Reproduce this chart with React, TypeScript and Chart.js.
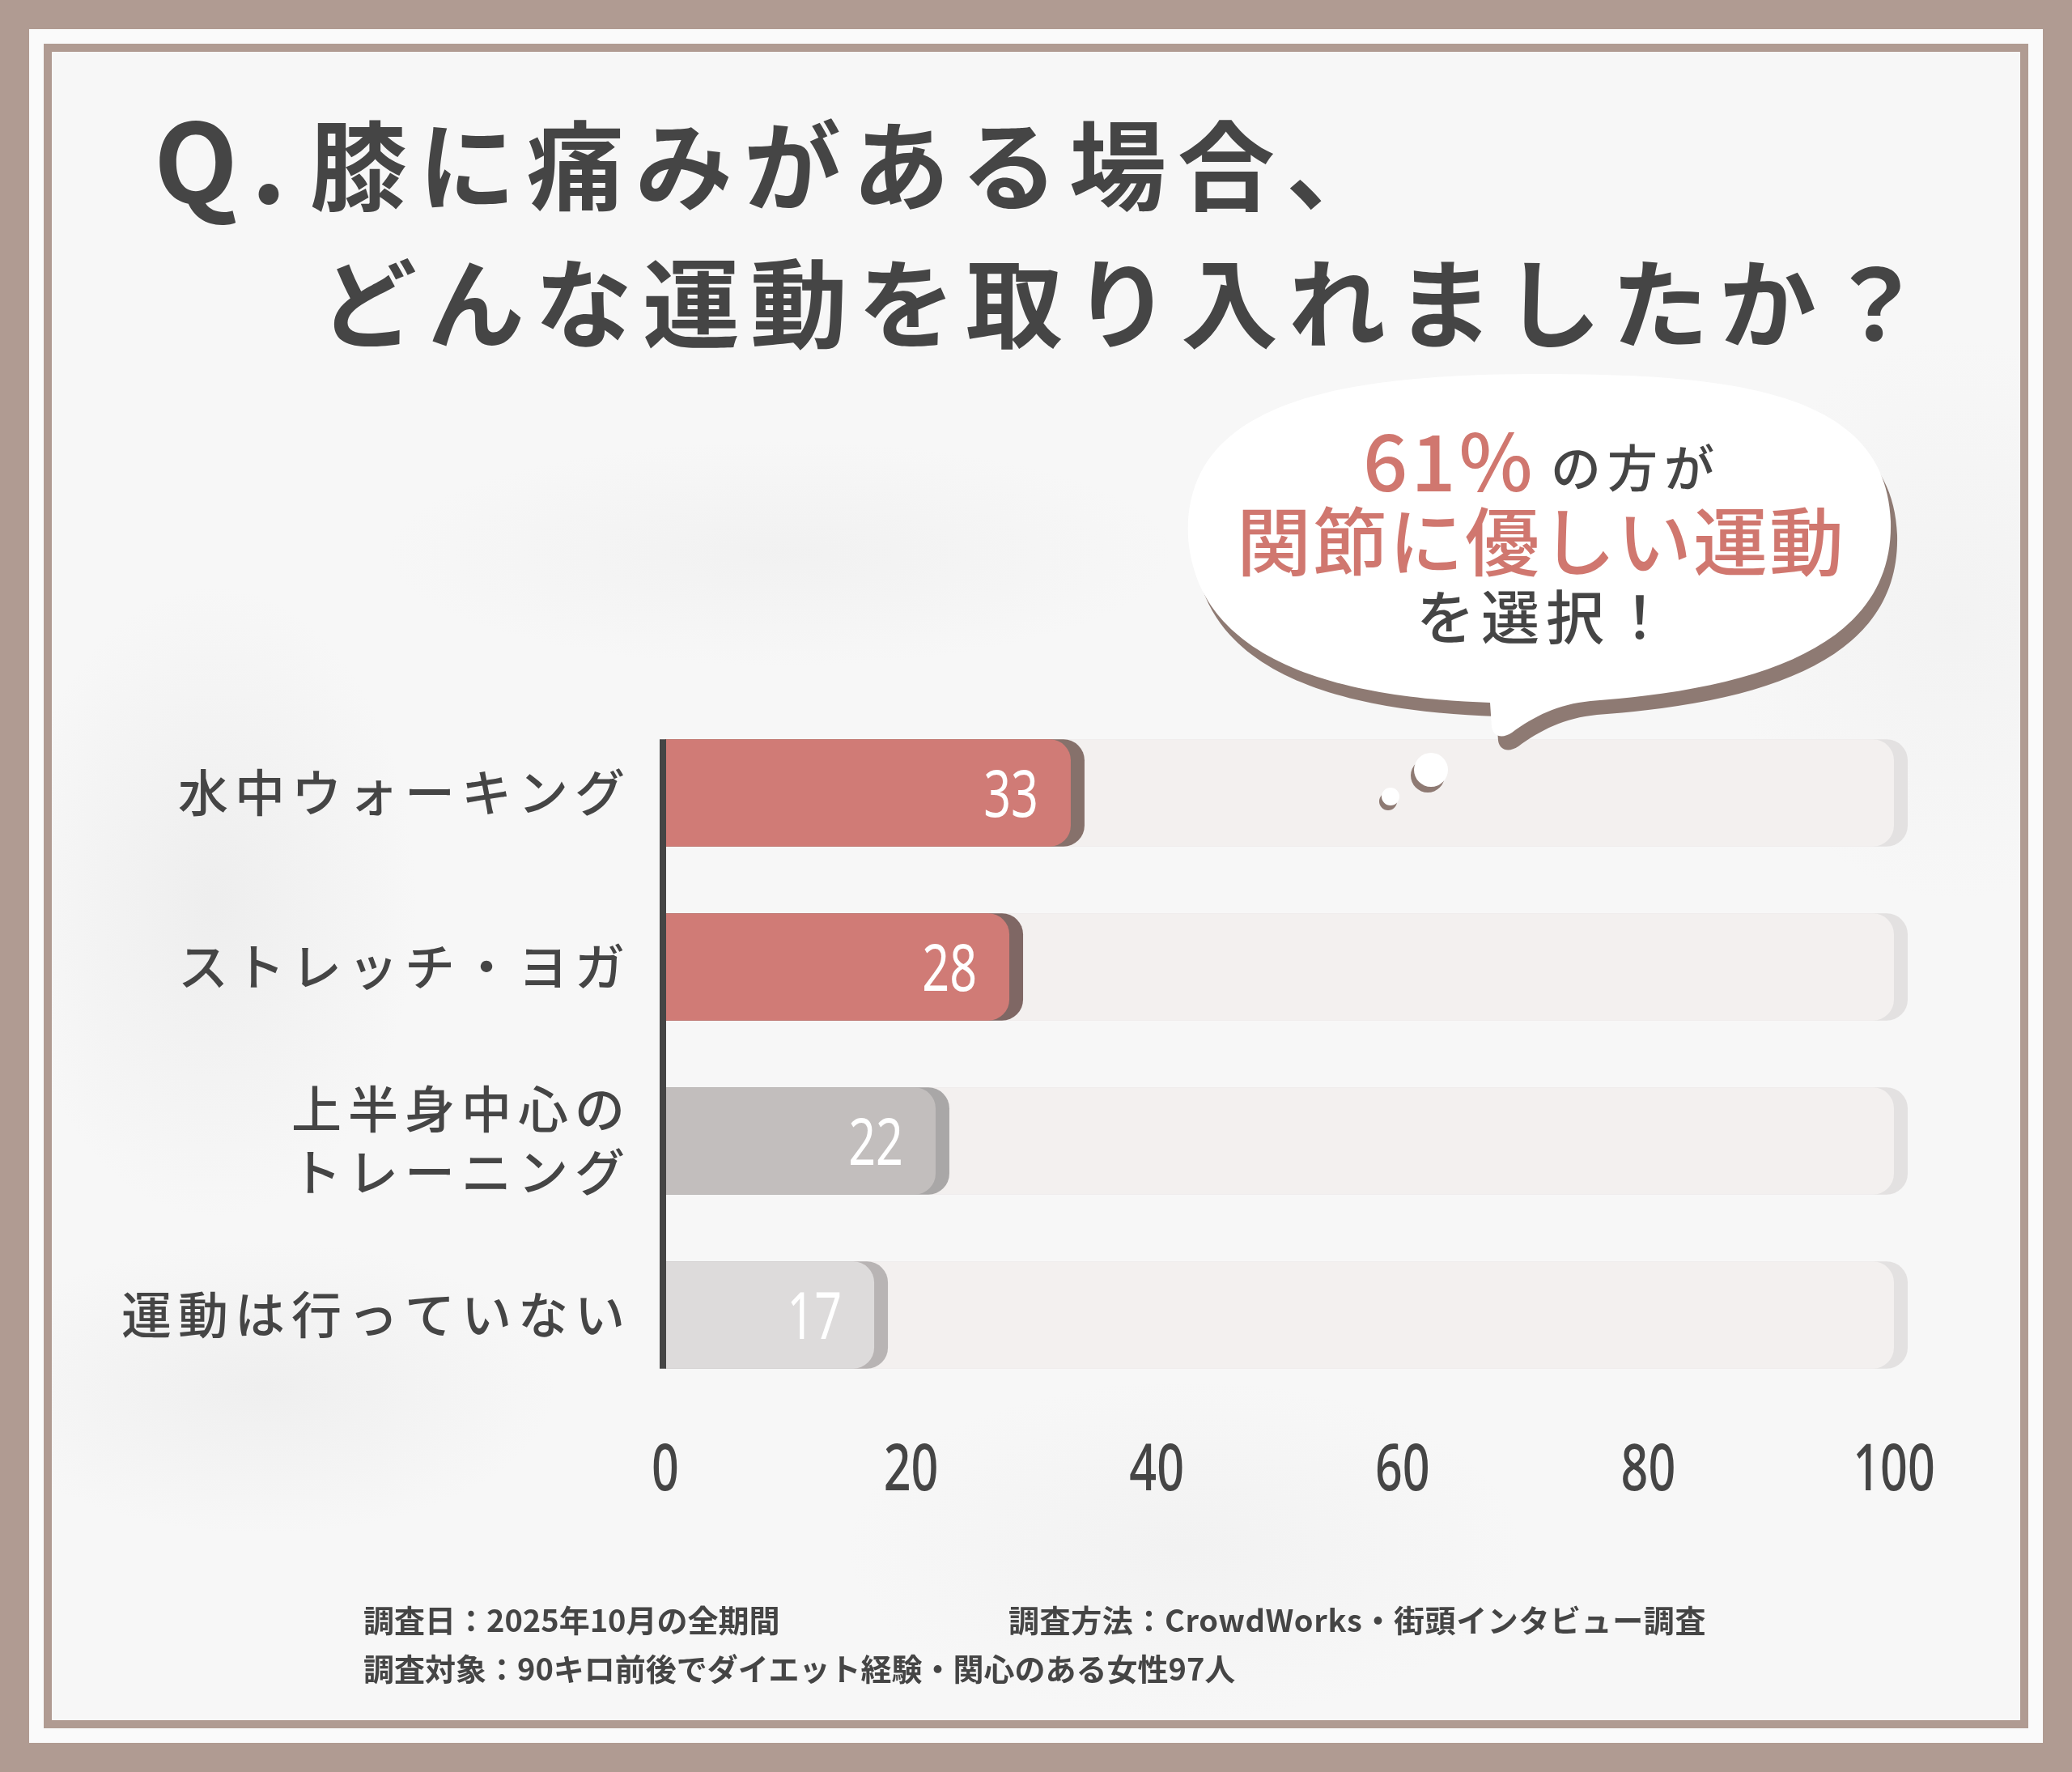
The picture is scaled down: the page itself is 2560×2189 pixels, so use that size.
import { useEffect, useRef } from 'react'
import { Chart, registerables } from 'chart.js'

Chart.register(...registerables)

// survey answers (people)
const categories: string[][] = [
  ['水中ウォーキング'],
  ['ストレッチ・ヨガ'],
  ['上半身中心の', 'トレーニング'],
  ['運動は行っていない'],
]
const counts = [33, 28, 22, 17]
const trackMax = 100
const xTicks = [0, 20, 40, 60, 80, 100]

const barColors = ['#d07b76', '#d07b76', '#c2bebd', '#dddbdb']
const barShadows = ['#86716b', '#7f6764', '#a9a7a7', '#b8b4b4']
const trackColor = '#f3f0ef'
const trackShadow = '#e3e1e1'

const INK = '#454545'
const PINK = '#d0776f'
const BROWN = '#b09b92'
const JP = '"Noto Sans CJK JP", "Noto Sans", sans-serif'
const DIGITS = '"Noto Sans", sans-serif'
const SQUEEZE = 0.74 // digits in the picture are narrow

// draw a narrow number with its baseline at (x, y)
function narrowText(ctx: CanvasRenderingContext2D, text: string, x: number, y: number, align: CanvasTextAlign) {
  ctx.save()
  ctx.translate(x, y)
  ctx.scale(SQUEEZE, 1)
  ctx.textAlign = align
  ctx.textBaseline = 'alphabetic'
  ctx.fillText(text, 0, 0)
  ctx.restore()
}

const decor = {
  id: 'decor',
  beforeDatasetDraw(chart: any, args: any) {
    const { ctx } = chart
    const meta = chart.getDatasetMeta(args.index)
    ctx.save()
    meta.data.forEach((bar: any, i: number) => {
      const { x, y, base, height } = bar.getProps(['x', 'y', 'base', 'height'], true)
      ctx.fillStyle = args.index === 0 ? barShadows[i] : trackShadow
      ctx.beginPath()
      ctx.roundRect(base, y - height / 2, x - base + 17, height, [0, 26, 26, 0])
      ctx.fill()
    })
    ctx.restore()
  },
  afterDatasetsDraw(chart: any) {
    const { ctx, chartArea } = chart
    const bars = chart.getDatasetMeta(0).data
    const first = bars[0].getProps(['y', 'height'], true)
    const last = bars[bars.length - 1].getProps(['y', 'height'], true)

    ctx.save()
    // y axis line
    ctx.strokeStyle = INK
    ctx.lineWidth = 8
    ctx.beginPath()
    ctx.moveTo(chartArea.left - 3, first.y - first.height / 2)
    ctx.lineTo(chartArea.left - 3, last.y + last.height / 2)
    ctx.stroke()

    // category labels
    ctx.font = `500 62px ${JP}`
    ctx.fillStyle = INK
    ctx.textAlign = 'right'
    ctx.textBaseline = 'middle'
    ctx.letterSpacing = '8px'
    const labelX = chartArea.left - 42
    chart.data.labels.forEach((label: string | string[], i: number) => {
      const lines = Array.isArray(label) ? label : [label]
      const y = chart.scales.y.getPixelForValue(i)
      const gap = 78
      lines.forEach((line, k) => {
        ctx.fillText(line, labelX, y + (k - (lines.length - 1) / 2) * gap)
      })
    })
    ctx.letterSpacing = '0px'

    // x tick labels, at the positions of the x scale ticks
    const xs = chart.scales.x
    ctx.font = `500 80px ${DIGITS}`
    ctx.fillStyle = INK
    xs.ticks.forEach((t: any) => {
      narrowText(ctx, String(t.value), xs.getPixelForValue(t.value), chartArea.bottom + 109, 'center')
    })

    // value labels inside the bars
    ctx.font = `400 80px ${DIGITS}`
    ctx.fillStyle = '#ffffff'
    bars.forEach((bar: any, i: number) => {
      const { x, y } = bar.getProps(['x', 'y'], true)
      narrowText(ctx, String(counts[i]), x - 40, y + 29, 'right')
    })
    ctx.restore()
  },
}

function BarChart() {
  const canvasRef = useRef<HTMLCanvasElement>(null)

  useEffect(() => {
    if (!canvasRef.current) return
    const chart = new Chart(canvasRef.current, {
      type: 'bar',
      data: {
        labels: categories,
        datasets: [
          {
            data: counts,
            backgroundColor: barColors,
            borderRadius: 26,
            grouped: false,
            categoryPercentage: 1,
            barPercentage: 0.616,
          },
          {
            data: categories.map(() => trackMax),
            backgroundColor: trackColor,
            borderRadius: 26,
            grouped: false,
            categoryPercentage: 1,
            barPercentage: 0.616,
          },
        ],
      },
      options: {
        indexAxis: 'y',
        responsive: false,
        devicePixelRatio: 1,
        animation: false,
        layout: { padding: { left: 0, right: 220, top: 32, bottom: 48 } },
        plugins: { legend: { display: false }, tooltip: { enabled: false } },
        scales: {
          y: {
            type: 'category',
            grid: { display: false },
            border: { display: false },
            ticks: { display: false },
            afterFit: (scale: any) => {
              scale.width = 822
            },
          },
          x: {
            type: 'linear',
            min: 0,
            max: trackMax,
            grid: { display: false, drawTicks: false },
            border: { display: false },
            afterBuildTicks: (scale: any) => {
              scale.ticks = xTicks.map((v) => ({ value: v }))
            },
            ticks: { display: false },
            afterFit: (scale: any) => {
              scale.height = 120
            },
          },
        },
      },
      plugins: [decor],
    } as any)
    return () => chart.destroy()
  }, [])

  return <canvas ref={canvasRef} width={2560} height={1060} style={{ position: 'absolute', left: 0, top: 840 }} />
}

const abs = (s: React.CSSProperties): React.CSSProperties => ({
  position: 'absolute',
  whiteSpace: 'nowrap',
  lineHeight: 1,
  fontFamily: JP,
  margin: 0,
  ...s,
})

const bubblePath =
  'M 1905 462 C 2150 462 2330 486 2336 644 C 2340 790 2190 850 1965 866 ' +
  'C 1925 870 1895 885 1868 905 C 1856 913 1845 910 1843 898 L 1841 868 ' +
  'C 1660 862 1480 820 1468 664 C 1460 494 1660 462 1905 462 Z'

export default function App() {
  return (
    <div
      style={{
        position: 'absolute',
        left: 0,
        top: 0,
        width: 2560,
        height: 2189,
        background: BROWN,
        overflow: 'hidden',
      }}
    >
      <div style={{ position: 'absolute', left: 36, top: 36, width: 2488, height: 2117, background: '#fafafa' }} />
      <div
        style={{
          position: 'absolute',
          left: 54,
          top: 54,
          width: 2452,
          height: 2081,
          boxSizing: 'border-box',
          border: `10px solid ${BROWN}`,
          backgroundColor: '#f7f7f7',
          backgroundImage: [
            'radial-gradient(ellipse 360px 560px at 200px 1050px, rgba(190,190,190,0.16), rgba(190,190,190,0) 70%)',
            'radial-gradient(ellipse 520px 260px at 260px 1650px, rgba(190,190,190,0.14), rgba(190,190,190,0) 70%)',
            'radial-gradient(ellipse 700px 200px at 900px 620px, rgba(200,200,200,0.12), rgba(200,200,200,0) 70%)',
            'radial-gradient(ellipse 600px 300px at 1400px 1850px, rgba(205,205,205,0.12), rgba(205,205,205,0) 70%)',
            'radial-gradient(ellipse 400px 500px at 2350px 700px, rgba(210,210,210,0.12), rgba(210,210,210,0) 70%)',
          ].join(','),
        }}
      />

      {/* title */}
      <div style={abs({ left: 190, top: 125, fontSize: 135, fontWeight: 700, color: INK, letterSpacing: 16 })}>Q.</div>
      <div style={abs({ left: 383, top: 139, fontSize: 120, fontWeight: 700, color: INK, letterSpacing: 14 })}>
        膝に痛みがある場合、
      </div>
      <div style={abs({ left: 395, top: 309, fontSize: 120, fontWeight: 700, color: INK, letterSpacing: 13 })}>
        どんな運動を取り入れましたか？
      </div>

      <BarChart />

      {/* speech bubble */}
      <svg
        width={2560}
        height={2189}
        viewBox="0 0 2560 2189"
        style={{ position: 'absolute', left: 0, top: 0, pointerEvents: 'none' }}
      >
        <path d={bubblePath} fill="#8e7a73" transform="translate(8 17)" />
        <path d={bubblePath} fill="#ffffff" />
        <circle cx={1764} cy={958} r={21} fill="#8e7a73" />
        <circle cx={1768} cy={951} r={21} fill="#ffffff" />
        <circle cx={1715} cy={990} r={11} fill="#8e7a73" />
        <circle cx={1718} cy={984} r={11} fill="#ffffff" />
      </svg>

      <div style={abs({ left: 1684, top: 516, fontSize: 97, fontWeight: 500, color: PINK, letterSpacing: 4 })}>61%</div>
      <div style={abs({ left: 1916, top: 544, fontSize: 62, fontWeight: 500, color: INK, letterSpacing: 8 })}>の方が</div>
      <div
        style={abs({
          left: 1402,
          top: 618,
          width: 1000,
          textAlign: 'center',
          paddingLeft: 2,
          fontSize: 92,
          fontWeight: 500,
          color: PINK,
          letterSpacing: 2,
        })}
      >
        関節に優しい運動
      </div>
      <div
        style={abs({
          left: 1402,
          top: 722,
          width: 1000,
          textAlign: 'center',
          paddingLeft: 8,
          fontSize: 72,
          fontWeight: 500,
          color: INK,
          letterSpacing: 8,
        })}
      >
        を選択！
      </div>

      {/* footer */}
      <div style={abs({ left: 449, top: 1981, fontSize: 38, fontWeight: 700, color: INK })}>調査日：2025年10月の全期間</div>
      <div style={abs({ left: 1246, top: 1981, fontSize: 38, fontWeight: 700, color: INK, letterSpacing: 0.6 })}>
        調査方法：CrowdWorks・街頭インタビュー調査
      </div>
      <div style={abs({ left: 449, top: 2041, fontSize: 38, fontWeight: 700, color: INK })}>
        調査対象：90キロ前後でダイエット経験・関心のある女性97人
      </div>
    </div>
  )
}
